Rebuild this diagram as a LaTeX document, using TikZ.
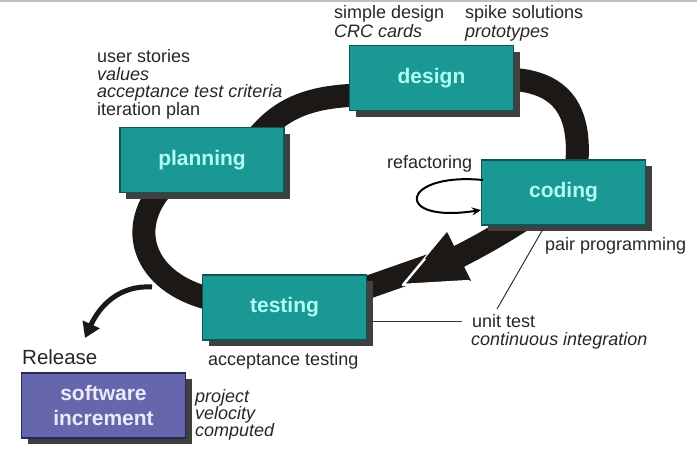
\documentclass[tikz,border=0pt]{standalone}
\usepackage{fontspec}
\setmainfont{Liberation Sans}
\usetikzlibrary{arrows.meta,shadows,calc}
\definecolor{tealbox}{RGB}{26,152,148}
\definecolor{tealdark}{RGB}{15,85,85}
\definecolor{tealtext}{RGB}{175,252,245}
\definecolor{purpbox}{RGB}{102,102,172}
\definecolor{purpdark}{RGB}{40,40,90}
\definecolor{purptext}{RGB}{234,234,250}
\definecolor{bandcol}{RGB}{28,24,22}
\begin{document}
\begin{tikzpicture}[x=1pt,y=-1pt,
  box/.style={draw=tealdark, line width=1.2pt, fill=tealbox, text=tealtext,
    font=\fontsize{21}{25}\selectfont\bfseries, minimum width=164pt, minimum height=65pt,
    inner sep=0pt, align=center,
    drop shadow={shadow xshift=6pt, shadow yshift=-6pt, fill=black!75, opacity=1}},
  relbox/.style={box, draw=purpdark, fill=purpbox, text=purptext},
  lbl/.style={anchor=base west, inner sep=0pt, font=\fontsize{18}{18}\selectfont, text=black!85},
  ilbl/.style={lbl, font=\fontsize{18}{18}\selectfont\itshape},
  bandline/.style={draw=bandcol, line width=23pt},
  thinline/.style={draw=black!80, line width=1pt}]
\useasboundingbox (0,0) rectangle (697,455);
\draw[black!25, line width=1.5pt] (0,0.75) -- (697,0.75);

% coordinates of the band
\coordinate (p1) at (255,140);
\coordinate (d1) at (362,95);
\coordinate (d2) at (505,79);
\coordinate (c1) at (576,172);
\coordinate (c2) at (535,212);
\coordinate (ab) at (450,261);
\coordinate (ai) at (440,262);
\coordinate (t1) at (360,290);
\coordinate (t2) at (215,300);
\coordinate (p2) at (172,178);
\coordinate (tipA) at (447,232);
\coordinate (tipB) at (403,285);
\coordinate (tipC) at (471,281);

% main cycle band
\draw[bandline] (p1) .. controls (280,108) and (310,96) .. (d1);
\draw[bandline] (d2) .. controls (570,80) and (582,120) .. (c1);
\draw[bandline] (ai) -- (t1);
\fill[bandcol] (tipA) -- (tipB) -- (tipC) -- cycle;
\draw[white, line width=2.5pt, line join=round] (tipA) -- (tipB) -- (tipC);
\draw[bandline] (c2) .. controls (510,228) and (490,241) .. (ab);
\fill[bandcol] (tipA) -- ($(tipA)!0.5!(tipB)$) -- (tipC) -- cycle;
\draw[bandline] (t2) .. controls (140,284) and (122,222) .. (p2);

% release arrow
\coordinate (r1) at (152,287);
\coordinate (r2) at (85,338);
\draw[bandcol, line width=5pt, -{Triangle[width=18pt,length=15pt]}] (r1) .. controls (120,285) and (100,305) .. (r2);

% boxes
\node[box] (design) at (431.5,78) {design};
\node[box] (planning) at (202,160) {planning};
\node[box] (coding) at (563.5,192.5) {coding};
\node[box] (testing) at (284.5,307.5) {testing};
\node[relbox] (release) at (103.5,405.5) {software\\increment};

% refactoring loop
\coordinate (rf1) at (483,180);
\coordinate (rf2) at (481,210);
\draw[black, line width=2pt, -{Stealth[length=9pt,width=8pt]}] (rf1) .. controls (400,172) and (392,224) .. (rf2);

% labels
\node[lbl] (sd) at (334,19) {simple design};
\node[ilbl] (crc) at (334,37) {CRC cards};
\node[lbl] (spike) at (465,19) {spike solutions};
\node[ilbl] (proto) at (465,37) {prototypes};
\node[lbl] (us) at (97,62) {user stories};
\node[ilbl] (val) at (97,80) {values};
\node[ilbl] (atc) at (97,97.5) {acceptance test criteria};
\node[lbl] (ip) at (97,115) {iteration plan};
\node[lbl] (refac) at (387,168) {refactoring};
\node[lbl] (pair) at (545,250) {pair programming};
\node[lbl] (unit) at (472,327) {unit test};
\node[ilbl] (ci) at (471,345) {continuous integration};
\node[lbl] (acct) at (208,365) {acceptance testing};
\node[lbl, font=\fontsize{20.5}{22}\selectfont] (rel) at (22,364) {Release};
\node[ilbl] (proj) at (195,402) {project};
\node[ilbl] (velo) at (195,419) {velocity};
\node[ilbl] (comp) at (195,436) {computed};

% leader lines
\coordinate (u1) at (497,309);
\coordinate (u2) at (462,321);
\draw[thinline] (coding.south -| 545,0) -- (u1);
\draw[thinline] (testing.east |- u2) -- (u2);
\end{tikzpicture}
\end{document}
